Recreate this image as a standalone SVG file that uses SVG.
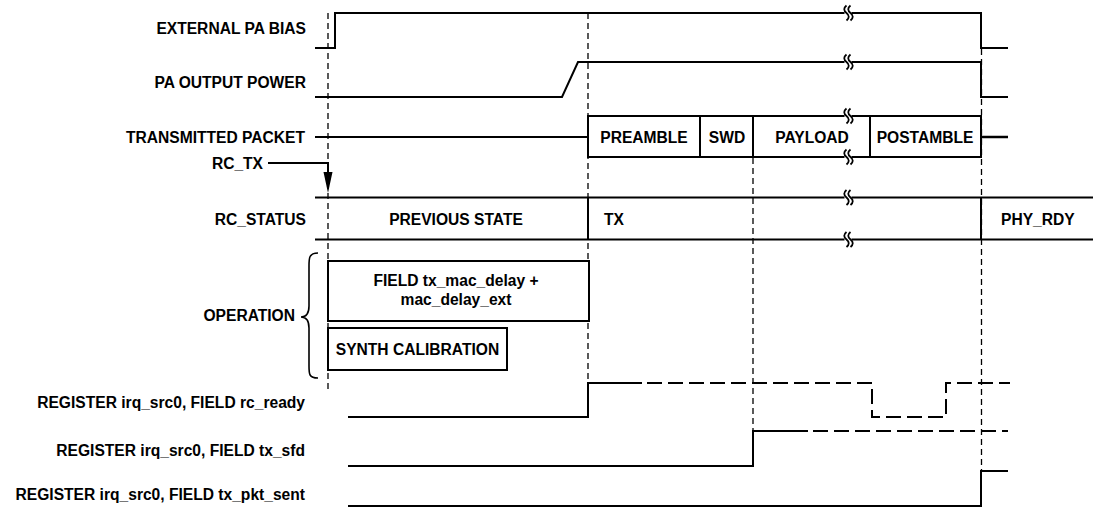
<svg xmlns="http://www.w3.org/2000/svg" width="1093" height="508" viewBox="0 0 1093 508">
<style>
text{font-family:"Liberation Sans",Arial,sans-serif;font-weight:bold;font-size:15.6px;fill:#000}
.r{text-anchor:end}
.m{text-anchor:middle}
.s{fill:none;stroke:#000;stroke-width:2}
.d{fill:none;stroke:#000;stroke-width:2;stroke-dasharray:15 6}
.v{fill:none;stroke:#000;stroke-width:1.3;stroke-dasharray:6 4}
.b{fill:#fff;stroke:#000;stroke-width:2}
.bk{fill:none;stroke:#000;stroke-width:1.8}
</style>
<defs>
<g id="brk">
<rect x="-3.5" y="-2.5" width="7" height="5" fill="#fff"/>
<path class="bk" d="M-1.5,-7.5 q-4.5,3.75 0,7.5 q4.5,3.75 0,7.5"/>
<path class="bk" d="M2.5,-7.5 q-4.5,3.75 0,7.5 q4.5,3.75 0,7.5"/>
</g>
</defs>
<rect width="1093" height="508" fill="#fff"/>

<g id="labels">
<text class="r" x="306" y="34">EXTERNAL PA BIAS</text>
<text class="r" x="306" y="88">PA OUTPUT POWER</text>
<text class="r" x="305" y="143">TRANSMITTED PACKET</text>
<text class="r" x="263" y="169">RC_TX</text>
<text class="r" x="306" y="225">RC_STATUS</text>
<text class="r" x="295" y="321">OPERATION</text>
<text class="r" x="305" y="408">REGISTER irq_src0, FIELD rc_ready</text>
<text class="r" x="305" y="456">REGISTER irq_src0, FIELD tx_sfd</text>
<text class="r" x="305" y="500">REGISTER irq_src0, FIELD tx_pkt_sent</text>
</g>

<g id="guides">
<line class="v" x1="328" y1="13" x2="328" y2="393"/>
<line class="v" x1="588" y1="13" x2="588" y2="383"/>
<line class="v" x1="753" y1="158" x2="753" y2="431"/>
<line class="v" x1="981.5" y1="49" x2="981.5" y2="471"/>
</g>

<g id="connectors">
<!-- external PA bias -->
<path class="s" d="M315,48 H335 V13 H981 V48 H1008"/>
<use href="#brk" x="848" y="13"/>
<!-- PA output power -->
<path class="s" d="M315,97 H562 L578,62 H981 V97 H1008"/>
<use href="#brk" x="848" y="62"/>
<!-- transmitted packet lines -->
<path class="s" d="M315,137 H588"/>
<path class="s" style="stroke-width:2.5" d="M981,137 H1008"/>
<!-- RC_TX -->
<path class="s" d="M268,163 H328 V176"/>
<path d="M323.5,172 L332.5,172 L328,193 Z" fill="#000"/>
<!-- RC_STATUS -->
<path class="s" d="M315,197.5 H1093 M315,239.5 H1093 M588,197.5 V239.5 M981,197.5 V239.5"/>
<use href="#brk" x="848" y="197.5"/>
<use href="#brk" x="848" y="239.5"/>
<!-- brace -->
<path class="s" style="stroke-width:1.6" d="M318,253 C309,253 309,258 309,266 V306 C309,313 306,317 301,317 C306,317 309,321 309,328 V366 C309,374 309,378 318,378"/>
<!-- rc_ready -->
<path class="s" d="M348,417 H588 V383 H642"/>
<path class="d" d="M647,383 H872 V417 H946 V383 H1010"/>
<!-- tx_sfd -->
<path class="s" d="M348,466 H753 V431 H808"/>
<path class="d" d="M813,431 H1008"/>
<!-- tx_pkt_sent -->
<path class="s" d="M348,506 H981 V471 H1008"/>
</g>

<g id="packet">
<rect class="b" x="588" y="116" width="393" height="41"/>
<path class="s" d="M700,116 V157 M753,116 V157 M870,116 V157"/>
<use href="#brk" x="848" y="116"/>
<use href="#brk" x="848" y="157"/>
<text class="m" x="644" y="143">PREAMBLE</text>
<text class="m" x="727" y="143">SWD</text>
<text class="m" x="812" y="143">PAYLOAD</text>
<text class="m" x="925" y="143">POSTAMBLE</text>
</g>

<g id="status">
<text class="m" x="456" y="225">PREVIOUS STATE</text>
<text x="604" y="225">TX</text>
<text x="1001" y="225">PHY_RDY</text>
</g>

<g id="op-delay">
<rect class="b" x="328" y="261" width="261" height="60"/>
<text class="m" x="456" y="286">FIELD tx_mac_delay +</text>
<text class="m" x="456" y="305">mac_delay_ext</text>
</g>

<g id="op-synth">
<rect class="b" x="328" y="328" width="179" height="42"/>
<text class="m" x="417.5" y="355">SYNTH CALIBRATION</text>
</g>
</svg>
